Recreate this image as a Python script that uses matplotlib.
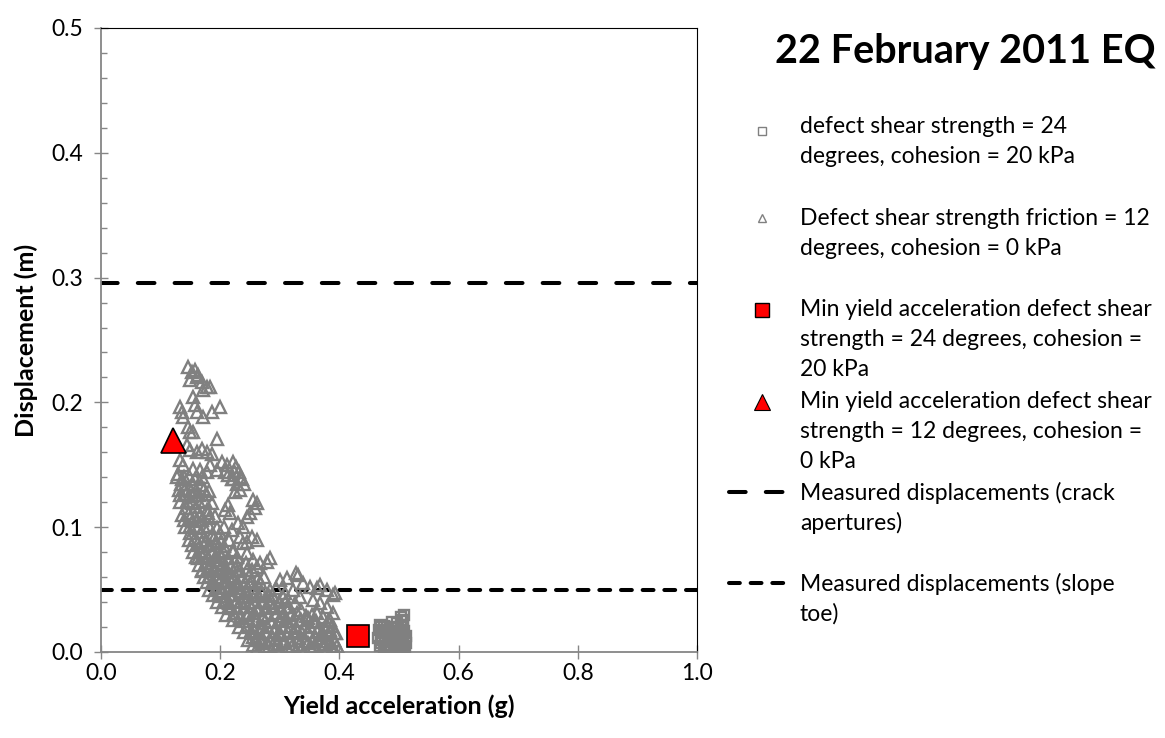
import matplotlib
matplotlib.use("Agg")
import matplotlib.pyplot as plt
from matplotlib.lines import Line2D
from matplotlib.ticker import MultipleLocator, FormatStrFormatter

plt.rcParams['font.family'] = ['Lato', 'DejaVu Sans']
plt.rcParams['lines.scale_dashes'] = False

# ---------------- data ----------------
# defect shear strength = 24 deg, cohesion = 20 kPa (grey squares)
sq_x = [0.468, 0.474, 0.480, 0.486, 0.492, 0.498, 0.503, 0.507, 0.509, 0.503,
        0.466, 0.472, 0.478, 0.484, 0.490, 0.496, 0.502, 0.508, 0.511,
        0.465, 0.471, 0.477, 0.483, 0.489, 0.495, 0.501, 0.507, 0.512,
        0.468, 0.474, 0.480, 0.486, 0.492, 0.498, 0.504, 0.510, 0.476, 0.500,
        0.470, 0.482, 0.494, 0.506, 0.469, 0.481, 0.493, 0.505,
        0.470, 0.482, 0.494, 0.506, 0.488, 0.496, 0.505]
sq_y = [0.022, 0.021, 0.020, 0.019, 0.020, 0.019, 0.022, 0.026, 0.030, 0.028,
        0.018, 0.016, 0.015, 0.014, 0.013, 0.015, 0.016, 0.017, 0.013,
        0.011, 0.010, 0.009, 0.008, 0.009, 0.008, 0.010, 0.009, 0.007,
        0.005, 0.004, 0.003, 0.004, 0.003, 0.004, 0.003, 0.004, 0.002, 0.001,
        0.020, 0.018, 0.017, 0.020, 0.013, 0.012, 0.011, 0.013,
        0.007, 0.006, 0.006, 0.006, 0.024, 0.023, 0.025]

# defect shear strength friction = 12 deg, cohesion = 0 kPa (grey triangles)
tri_x = [
    # sparse upper cloud
    0.146, 0.158, 0.153, 0.163, 0.149, 0.161, 0.169, 0.178, 0.183, 0.171,
    0.154, 0.158, 0.133, 0.136, 0.138, 0.161, 0.171, 0.186, 0.200,
    0.146, 0.149, 0.154, 0.195, 0.144, 0.149, 0.161, 0.169, 0.178, 0.186,
    0.133, 0.138, 0.129, 0.136, 0.203, 0.211, 0.195, 0.208, 0.221, 0.233,
    0.183, 0.178, 0.166, 0.154, 0.222, 0.227, 0.223, 0.232, 0.237, 0.240,
    0.228, 0.233, 0.225, 0.220, 0.213,
    0.255, 0.262, 0.250, 0.245, 0.258, 0.213, 0.208, 0.216, 0.230, 0.238,
    0.220, 0.233, 0.253, 0.262, 0.245,
    0.222, 0.228, 0.245, 0.255, 0.267, 0.278, 0.284, 0.262, 0.253, 0.238,
    0.300, 0.312, 0.331, 0.339, 0.351, 0.362, 0.367, 0.379, 0.389, 0.334, 0.322,
    0.328, 0.309, 0.393,
    0.356, 0.367, 0.379, 0.389, 0.362, 0.372, 0.384, 0.393, 0.384,
    0.255, 0.267,
    # dense band
    0.128, 0.139, 0.147, 0.158, 0.169,
    0.131, 0.141, 0.151, 0.160, 0.173, 0.181,
    0.133, 0.144, 0.153, 0.164, 0.175, 0.187,
    0.136, 0.147, 0.158, 0.166, 0.179, 0.191,
    0.141, 0.150, 0.161, 0.172, 0.182, 0.194, 0.206,
    0.147, 0.158, 0.169, 0.177, 0.190, 0.201, 0.214,
    0.155, 0.166, 0.174, 0.186, 0.198, 0.207, 0.222,
    0.164, 0.176, 0.185, 0.196, 0.205, 0.218, 0.229, 0.243,
    0.173, 0.182, 0.194, 0.203, 0.214, 0.223, 0.237, 0.249, 0.263, 0.274,
    0.182, 0.193, 0.201, 0.213, 0.221, 0.234, 0.244, 0.258, 0.269, 0.284, 0.294,
    0.194, 0.206, 0.214, 0.226, 0.235, 0.249, 0.259, 0.273, 0.284, 0.299, 0.311, 0.326,
    0.209, 0.223, 0.233, 0.247, 0.257, 0.271, 0.281, 0.295, 0.305, 0.319, 0.329, 0.344, 0.354,
    0.231, 0.245, 0.255, 0.269, 0.279, 0.293, 0.303, 0.317, 0.327, 0.341, 0.351, 0.365, 0.375, 0.388,
    0.246, 0.260, 0.270, 0.284, 0.294, 0.308, 0.318, 0.332, 0.342, 0.356, 0.366, 0.380, 0.391,
    0.262, 0.276, 0.287, 0.301, 0.312, 0.327, 0.338, 0.353, 0.364, 0.379, 0.390, 0.400,
    # fill between rows
    0.134, 0.152, 0.168, 0.143, 0.160, 0.178, 0.150, 0.167, 0.186, 0.200,
    0.162, 0.180, 0.195, 0.213, 0.170, 0.190, 0.210, 0.228, 0.245,
    0.188, 0.207, 0.227, 0.250, 0.266, 0.200, 0.220, 0.241, 0.263, 0.287, 0.305,
    0.217, 0.240, 0.262, 0.288, 0.312, 0.336, 0.238, 0.262, 0.286, 0.310, 0.334, 0.358, 0.381,
    0.254, 0.277, 0.300, 0.324, 0.347, 0.371, 0.395,
    # further fill of the dense band
    0.255, 0.270, 0.282, 0.296, 0.306, 0.321, 0.333, 0.347, 0.358, 0.372, 0.384, 0.396,
    0.240, 0.252, 0.266, 0.276, 0.290, 0.300, 0.314, 0.324, 0.338, 0.348, 0.362, 0.372, 0.385,
    0.222, 0.234, 0.248, 0.260, 0.272, 0.285, 0.298, 0.310, 0.322, 0.335, 0.348, 0.360,
    0.203, 0.214, 0.228, 0.240, 0.252, 0.265, 0.277, 0.290, 0.302, 0.315,
    0.188, 0.198, 0.210, 0.222, 0.234, 0.246, 0.258, 0.270, 0.282,
    0.178, 0.188, 0.198, 0.208, 0.218, 0.230, 0.242, 0.254,
    0.169, 0.179, 0.189, 0.199, 0.210, 0.221, 0.233,
    0.160, 0.170, 0.180, 0.191, 0.202, 0.213,
    0.152, 0.162, 0.172, 0.183, 0.195, 0.207,
    0.139, 0.149, 0.160, 0.170, 0.182,
    0.132, 0.142, 0.152, 0.164, 0.176,
]
tri_y = [
    # sparse upper cloud
    0.228, 0.226, 0.224, 0.222, 0.218, 0.220, 0.216, 0.212, 0.212, 0.210,
    0.204, 0.198, 0.196, 0.192, 0.188, 0.192, 0.188, 0.192, 0.196,
    0.180, 0.176, 0.176, 0.171, 0.166, 0.162, 0.160, 0.163, 0.160, 0.159,
    0.154, 0.150, 0.143, 0.139, 0.152, 0.150, 0.146, 0.144, 0.139, 0.140,
    0.150, 0.144, 0.146, 0.147, 0.152, 0.148, 0.145, 0.144, 0.139, 0.135,
    0.135, 0.130, 0.128, 0.139, 0.142,
    0.122, 0.119, 0.111, 0.108, 0.115, 0.118, 0.114, 0.111, 0.103, 0.100,
    0.098, 0.092, 0.092, 0.090, 0.088,
    0.082, 0.076, 0.079, 0.074, 0.071, 0.072, 0.075, 0.068, 0.066, 0.087,
    0.058, 0.059, 0.062, 0.055, 0.052, 0.051, 0.054, 0.050, 0.046, 0.044, 0.050,
    0.063, 0.047, 0.047,
    0.042, 0.039, 0.036, 0.031, 0.031, 0.028, 0.026, 0.015, 0.018,
    0.012, 0.010,
    # dense band
    0.140, 0.140, 0.141, 0.139, 0.140,
    0.130, 0.131, 0.129, 0.130, 0.131, 0.129,
    0.120, 0.121, 0.119, 0.120, 0.121, 0.119,
    0.110, 0.111, 0.109, 0.110, 0.111, 0.109,
    0.100, 0.101, 0.099, 0.100, 0.101, 0.099, 0.100,
    0.090, 0.091, 0.089, 0.090, 0.091, 0.089, 0.090,
    0.080, 0.081, 0.079, 0.080, 0.081, 0.079, 0.080,
    0.070, 0.071, 0.069, 0.070, 0.071, 0.069, 0.070, 0.071,
    0.060, 0.061, 0.059, 0.060, 0.061, 0.059, 0.060, 0.061, 0.059, 0.060,
    0.050, 0.051, 0.049, 0.050, 0.051, 0.049, 0.050, 0.051, 0.049, 0.050, 0.051,
    0.040, 0.041, 0.039, 0.040, 0.041, 0.039, 0.040, 0.041, 0.039, 0.040, 0.041, 0.039,
    0.030, 0.031, 0.029, 0.030, 0.031, 0.029, 0.030, 0.031, 0.029, 0.030, 0.031, 0.029, 0.030,
    0.020, 0.021, 0.019, 0.020, 0.021, 0.019, 0.020, 0.021, 0.019, 0.020, 0.021, 0.019, 0.020, 0.021,
    0.010, 0.011, 0.009, 0.010, 0.011, 0.009, 0.010, 0.011, 0.009, 0.010, 0.011, 0.009, 0.010,
    0.003, 0.004, 0.002, 0.003, 0.004, 0.002, 0.003, 0.004, 0.002, 0.003, 0.004, 0.002,
    # fill between rows
    0.135, 0.135, 0.134, 0.115, 0.116, 0.114, 0.095, 0.096, 0.094, 0.095,
    0.075, 0.076, 0.074, 0.075, 0.065, 0.066, 0.064, 0.065, 0.066,
    0.055, 0.056, 0.054, 0.055, 0.056, 0.045, 0.046, 0.044, 0.045, 0.046, 0.044,
    0.035, 0.036, 0.034, 0.035, 0.036, 0.034, 0.025, 0.026, 0.024, 0.025, 0.026, 0.024, 0.025,
    0.015, 0.016, 0.014, 0.015, 0.016, 0.014, 0.015,
    # further fill of the dense band
    0.006, 0.007, 0.005, 0.006, 0.007, 0.005, 0.006, 0.007, 0.005, 0.006, 0.007, 0.005,
    0.016, 0.017, 0.015, 0.016, 0.017, 0.015, 0.016, 0.017, 0.015, 0.016, 0.017, 0.015, 0.016,
    0.026, 0.027, 0.025, 0.026, 0.027, 0.025, 0.026, 0.027, 0.025, 0.026, 0.027, 0.025,
    0.036, 0.037, 0.035, 0.036, 0.037, 0.035, 0.036, 0.037, 0.035, 0.036,
    0.046, 0.047, 0.045, 0.046, 0.047, 0.045, 0.046, 0.047, 0.045,
    0.056, 0.057, 0.055, 0.056, 0.057, 0.055, 0.056, 0.057,
    0.066, 0.067, 0.065, 0.066, 0.067, 0.065, 0.066,
    0.076, 0.077, 0.075, 0.076, 0.077, 0.075,
    0.086, 0.087, 0.085, 0.086, 0.087, 0.085,
    0.106, 0.107, 0.105, 0.106, 0.107,
    0.126, 0.127, 0.125, 0.126, 0.127,
]

# minimum yield acceleration points
min_sq_x, min_sq_y = [0.431], [0.013]
min_tri_x, min_tri_y = [0.121], [0.1695]

# measured displacements
crack_aperture = 0.296
slope_toe = 0.050

title = "22 February 2011 EQ"
x_label = "Yield acceleration (g)"
y_label = "Displacement (m)"
legend_labels = [
    ["defect shear strength = 24", "degrees, cohesion = 20 kPa"],
    ["Defect shear strength friction = 12", "degrees, cohesion = 0 kPa"],
    ["Min yield acceleration defect shear", "strength = 24 degrees, cohesion =", "20 kPa"],
    ["Min yield acceleration defect shear", "strength = 12 degrees, cohesion =", "0 kPa"],
    ["Measured displacements (crack", "apertures)"],
    ["Measured displacements (slope", "toe)"],
]

# ---------------- figure ----------------
W, H = 1165, 738
fig = plt.figure(figsize=(W / 100, H / 100), dpi=100)

def fx(px):
    return px / W

def fy(py):
    return 1 - py / H

ax = fig.add_axes([fx(101), fy(652), fx(697) - fx(101), fy(28) - fy(652)])

GREY = '#808080'
AXGREY = '#868686'
FS = 16.5
TICKFS = 16.5
LABFS = 18

crack_dash = (12.0, 14.5)
toe_dash = (7.8, 7.8)

ax.axhline(crack_aperture, color='black', lw=2.9, dashes=crack_dash,
           dash_capstyle='round', zorder=2)
ax.axhline(slope_toe, color='black', lw=2.9, dashes=toe_dash,
           dash_capstyle='round', zorder=2)

ax.plot(sq_x, sq_y, linestyle='none', marker='s', ms=7.0, mfc='none',
        mec=GREY, mew=1.7, zorder=3)
ax.plot(tri_x, tri_y, linestyle='none', marker='^', ms=9, mfc='none',
        mec=GREY, mew=1.7, zorder=3)
ax.plot(min_sq_x, min_sq_y, linestyle='none', marker='s', ms=15.5,
        mfc='#ff0000', mec='black', mew=1.2, zorder=4)
ax.plot(min_tri_x, min_tri_y, linestyle='none', marker='^', ms=18,
        mfc='#ff0000', mec='black', mew=1.2, zorder=4)

ax.set_xlim(0, 1.0)
ax.set_ylim(0, 0.5)
ax.xaxis.set_major_locator(MultipleLocator(0.2))
ax.yaxis.set_major_locator(MultipleLocator(0.1))
ax.yaxis.set_minor_locator(MultipleLocator(0.02))
ax.xaxis.set_major_formatter(FormatStrFormatter('%.1f'))
ax.yaxis.set_major_formatter(FormatStrFormatter('%.1f'))

for s in ['left', 'bottom']:
    ax.spines[s].set_color(AXGREY)
    ax.spines[s].set_linewidth(1.3)
for s in ['top', 'right']:
    ax.spines[s].set_color('black')
    ax.spines[s].set_linewidth(0.8)

ax.tick_params(axis='y', which='major', direction='inout', length=9.5,
               width=1.0, color=AXGREY, labelsize=TICKFS, pad=8)
ax.tick_params(axis='y', which='minor', direction='in', length=4.2,
               width=1.0, color=AXGREY)
ax.tick_params(axis='x', which='major', direction='inout', length=9.5,
               width=1.0, color=AXGREY, labelsize=TICKFS, pad=3)

ax.set_xlabel(x_label, fontsize=LABFS, fontweight='bold', labelpad=8)
ax.set_ylabel(y_label, fontsize=LABFS, fontweight='bold', labelpad=10)

# title
fig.text(fx(775), fy(63), title, fontsize=28.5, fontweight='bold',
         ha='left', va='baseline')

# legend (drawn manually to reproduce layout)
baselines = [[133, 163], [225, 255], [316, 346, 376], [408, 438, 468],
             [500, 530], [591, 621]]
marker_y = [131, 218, 310, 402, 492, 583]

for lines, bls in zip(legend_labels, baselines):
    for t, b in zip(lines, bls):
        fig.text(fx(800), fy(b), t, fontsize=FS, ha='left', va='baseline')

handles = [
    dict(marker='s', ms=5.5, mfc='none', mec=GREY, mew=1.0),
    dict(marker='^', ms=6, mfc='none', mec=GREY, mew=1.0),
    dict(marker='s', ms=10, mfc='#ff0000', mec='black', mew=1.0),
    dict(marker='^', ms=11, mfc='#ff0000', mec='black', mew=0.8),
]
for h, my in zip(handles, marker_y[:4]):
    fig.add_artist(Line2D([fx(762)], [fy(my)], linestyle='none',
                          transform=fig.transFigure, **h))

fig.add_artist(Line2D([fx(729), fx(786)], [fy(marker_y[4])] * 2,
                      transform=fig.transFigure, color='black', lw=2.9,
                      dashes=crack_dash, dash_capstyle='round'))
fig.add_artist(Line2D([fx(729), fx(786)], [fy(marker_y[5])] * 2,
                      transform=fig.transFigure, color='black', lw=2.9,
                      dashes=toe_dash, dash_capstyle='round'))

fig.savefig('out.png', dpi=100)
